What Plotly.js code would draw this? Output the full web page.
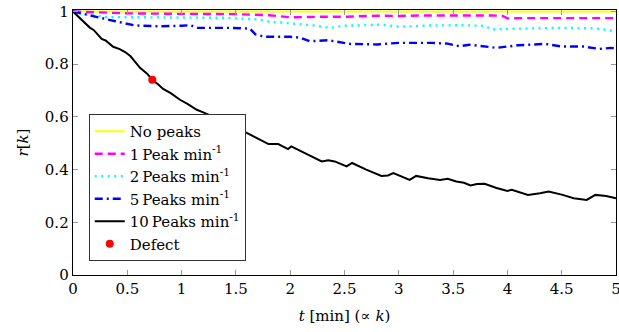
<!DOCTYPE html>
<html>
<head>
<meta charset="utf-8">
<script src="https://cdn.plot.ly/plotly-3.0.1.min.js"></script>
<style>html,body{margin:0;padding:0;background:#fff;}#chart{width:619px;height:332px;}</style>
</head>
<body>
<div id="chart"></div>
<script>
// Series data (t in minutes, r[k])
const x0 = [0, 5];
const y0 = [1, 1];

const x1 = [0, 0.25, 0.5, 1, 1.5, 1.8, 2, 2.3, 2.5, 2.8, 3, 3.2, 3.45, 3.6, 3.85, 3.95, 4.0, 4.2, 4.5, 4.8, 5];
const y1 = [1, 0.997, 0.993, 0.991, 0.99, 0.986, 0.978, 0.98, 0.98, 0.984, 0.983, 0.985, 0.986, 0.985, 0.985, 0.984, 0.974, 0.975, 0.976, 0.977, 0.975];

const x2 = [0, 0.1, 0.3, 0.5, 1, 1.4, 1.7, 1.8, 2, 2.2, 2.37, 2.5, 2.83, 3, 3.3, 3.6, 3.8, 3.85, 4.1, 4.5, 4.8, 4.95, 5];
const y2 = [1, 0.99, 0.979, 0.978, 0.977, 0.976, 0.97, 0.962, 0.955, 0.948, 0.938, 0.946, 0.95, 0.942, 0.947, 0.948, 0.945, 0.932, 0.935, 0.938, 0.936, 0.928, 0.93];

const x5 = [0, 0.11, 0.25, 0.39, 0.57, 0.8, 1.0, 1.08, 1.15, 1.45, 1.63, 1.68, 1.77, 2.0, 2.09, 2.18, 2.35, 2.55, 2.8, 3.0, 3.3, 3.45, 3.56, 3.65, 3.9, 4.1, 4.35, 4.5, 4.7, 4.85, 4.95, 5];
const y5 = [1, 0.989, 0.976, 0.963, 0.947, 0.944, 0.946, 0.948, 0.938, 0.938, 0.935, 0.913, 0.904, 0.904, 0.901, 0.887, 0.891, 0.877, 0.875, 0.881, 0.881, 0.878, 0.868, 0.874, 0.862, 0.872, 0.877, 0.867, 0.867, 0.858, 0.862, 0.86];

const x10 = [0, 0.05, 0.1, 0.157, 0.19, 0.264, 0.3, 0.37, 0.43, 0.48, 0.53, 0.617, 0.68, 0.73, 0.78, 0.83, 0.9, 0.985, 1.05, 1.14, 1.2, 1.3, 1.4, 1.5, 1.6, 1.7, 1.8, 1.89, 1.98, 2.01, 2.1, 2.2, 2.29, 2.35, 2.41, 2.52, 2.57, 2.7, 2.84, 2.9, 2.95, 3.1, 3.16, 3.27, 3.38, 3.45, 3.53, 3.6, 3.66, 3.72, 3.79, 3.9, 4.0, 4.04, 4.19, 4.3, 4.38, 4.5, 4.61, 4.73, 4.81, 4.91, 5];
const y10 = [1, 0.98, 0.962, 0.938, 0.93, 0.896, 0.89, 0.866, 0.857, 0.846, 0.83, 0.786, 0.765, 0.741, 0.725, 0.706, 0.69, 0.665, 0.65, 0.627, 0.617, 0.6, 0.58, 0.56, 0.539, 0.518, 0.497, 0.497, 0.478, 0.488, 0.47, 0.45, 0.431, 0.435, 0.431, 0.412, 0.425, 0.4, 0.376, 0.378, 0.387, 0.361, 0.376, 0.367, 0.361, 0.365, 0.355, 0.35, 0.34, 0.345, 0.346, 0.33, 0.319, 0.323, 0.304, 0.31, 0.317, 0.305, 0.291, 0.285, 0.304, 0.3, 0.291];

const xDefect = [0.73];
const yDefect = [0.741];

const names = ['No peaks', '1\u2009Peak min<sup>-1</sup>', '2\u2009Peaks min<sup>-1</sup>', '5\u2009Peaks min<sup>-1</sup>', '10\u2009Peaks min<sup>-1</sup>', 'Defect'];
const xTicks = [0, 0.5, 1, 1.5, 2, 2.5, 3, 3.5, 4, 4.5, 5];
const xTickText = ['0', '0.5', '1', '1.5', '2', '2.5', '3', '3.5', '4', '4.5', '5'];
const yTicks = [0, 0.2, 0.4, 0.6, 0.8, 1];
const yTickText = ['0', '0.2', '0.4', '0.6', '0.8', '1'];

const FONT = 'DejaVu Serif';

const traces = [
  {x: x0, y: y0, name: names[0], mode: 'lines', line: {color: '#ffff00', width: 2.2}},
  {x: x1, y: y1, name: names[1], mode: 'lines', line: {color: '#ff00ff', width: 2.4, dash: '8px,5px'}},
  {x: x2, y: y2, name: names[2], mode: 'lines', line: {color: '#00ffff', width: 2.4, dash: '2px,4.5px'}},
  {x: x5, y: y5, name: names[3], mode: 'lines', line: {color: '#0000ff', width: 2.4, dash: '8px,4px,2px,4px'}},
  {x: x10, y: y10, name: names[4], mode: 'lines', line: {color: '#000000', width: 2}},
  {x: xDefect, y: yDefect, name: names[5], mode: 'markers', marker: {color: '#ff0000', size: 8}}
];

const layout = {
  width: 619, height: 332,
  margin: {l: 73, r: 3, t: 10, b: 57, pad: 0},
  paper_bgcolor: '#fff', plot_bgcolor: '#fff',
  font: {family: FONT, size: 15, color: '#000'},
  showlegend: true,
  legend: {
    x: 0.029, y: 0.6075, xanchor: 'left', yanchor: 'top',
    bgcolor: '#fff', bordercolor: '#333', borderwidth: 1,
    font: {family: FONT, size: 15, color: '#000'},
    traceorder: 'normal'
  },
  xaxis: {
    range: [0, 5], tickvals: xTicks, ticktext: xTickText,
    ticks: 'inside', ticklen: 5, tickcolor: '#999', tickwidth: 1,
    ticklabeloverflow: 'allow',
    tickfont: {family: FONT, size: 15},
    showline: true, linecolor: '#000', linewidth: 1.3, mirror: 'allticks',
    showgrid: false, zeroline: false,
    title: {text: '<i>t</i> [min] (\u221d <i>k</i>)', font: {family: FONT, size: 15}, standoff: 13}
  },
  yaxis: {
    range: [0, 1.0057], tickvals: yTicks, ticktext: yTickText,
    ticks: 'inside', ticklen: 5, tickcolor: '#999', tickwidth: 1,
    tickfont: {family: FONT, size: 15},
    showline: true, linecolor: '#000', linewidth: 1.3, mirror: 'allticks',
    showgrid: false, zeroline: false, automargin: true,
    title: {text: '<i>r</i>[<i>k</i>]', font: {family: FONT, size: 15}, standoff: 12}
  }
};

Plotly.newPlot('chart', traces, layout, {displayModeBar: false, staticPlot: true});
</script>
</body>
</html>
